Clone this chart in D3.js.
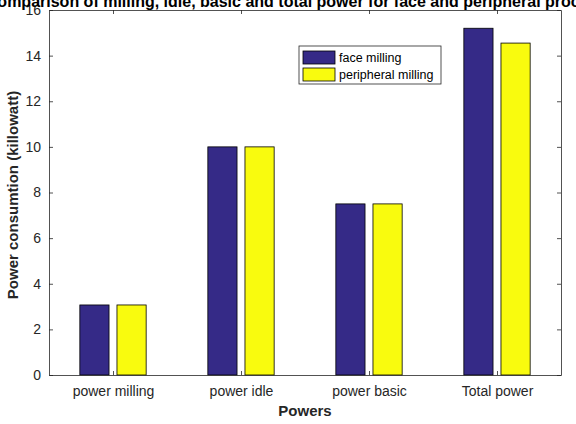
<!DOCTYPE html>
<html>
<head>
<meta charset="utf-8">
<script src="https://cdn.jsdelivr.net/npm/d3@7"></script>
<style>
  body { margin: 0; background: #fff; }
  svg { display: block; font-family: "Liberation Sans", Arial, sans-serif; }
</style>
</head>
<body>
<div id="chart"></div>
<script>
// chart data
var categories = ["power milling", "power idle", "power basic", "Total power"];
var faceMilling = [3.07, 10, 7.5, 15.2];
var peripheralMilling = [3.07, 10, 7.5, 14.55];
var seriesNames = ["face milling", "peripheral milling"];
var yTicks = [0, 2, 4, 6, 8, 10, 12, 14, 16];

var width = 576, height = 424;
var margin = { top: 10, right: 15, bottom: 49, left: 49 };

var svg = d3.select("#chart").append("svg")
    .attr("width", width)
    .attr("height", height);

var x = d3.scaleLinear()
    .domain([0.5, categories.length + 0.5])
    .range([margin.left, width - margin.right]);

var y = d3.scaleLinear()
    .domain([0, 16])
    .range([height - margin.bottom, margin.top]);

var colors = ["#352A87", "#F9FB0E"];
var series = [faceMilling, peripheralMilling];
var offset = 0.145, barW = 0.228;
var axisCol = "#262626";

// bars
series.forEach(function(vals, s) {
    svg.append("g").selectAll("rect")
        .data(vals)
        .enter().append("rect")
        .attr("x", function(d, i) { return x(i + 1 + (s === 0 ? -offset : offset) - barW / 2); })
        .attr("width", x(barW) - x(0))
        .attr("y", function(d) { return y(d); })
        .attr("height", function(d) { return y(0) - y(d); })
        .attr("fill", colors[s])
        .attr("stroke", "#000")
        .attr("stroke-width", 0.8);
});

// axes
var xAxis = d3.axisBottom(x).tickValues([1, 2, 3, 4])
    .tickFormat(function(d) { return categories[d - 1]; })
    .tickSizeInner(-4).tickSizeOuter(0).tickPadding(11);
svg.append("g")
    .attr("transform", "translate(0," + y(0) + ")")
    .call(xAxis);

var yAxis = d3.axisLeft(y).tickValues(yTicks)
    .tickSizeInner(-4).tickSizeOuter(0).tickPadding(8);
svg.append("g")
    .attr("transform", "translate(" + margin.left + ",0)")
    .call(yAxis);

// mirrored ticks on top and right
svg.append("g")
    .attr("transform", "translate(0," + y(16) + ")")
    .call(d3.axisTop(x).tickValues([1, 2, 3, 4]).tickSizeInner(-4).tickSizeOuter(0).tickFormat(""));
svg.append("g")
    .attr("transform", "translate(" + x(4.5) + ",0)")
    .call(d3.axisRight(y).tickValues(yTicks).tickSizeInner(-4).tickSizeOuter(0).tickFormat(""));

svg.selectAll(".domain, .tick line").attr("stroke", axisCol).attr("stroke-width", 0.8);
svg.selectAll(".tick text")
    .attr("fill", axisCol)
    .style("font-size", "14px");

// axis titles
svg.append("text")
    .attr("x", (x(0.5) + x(4.5)) / 2)
    .attr("y", 416)
    .attr("text-anchor", "middle")
    .style("font-size", "15px")
    .style("font-weight", "bold")
    .attr("fill", axisCol)
    .text("Powers");

svg.append("text")
    .attr("transform", "translate(18,195) rotate(-90)")
    .attr("text-anchor", "middle")
    .style("font-size", "15px")
    .style("font-weight", "bold")
    .attr("fill", axisCol)
    .text("Power consumtion (killowatt)");

// title (clipped at top as in the source figure)
svg.append("text")
    .attr("x", (x(0.5) + x(4.5)) / 2)
    .attr("y", 7)
    .attr("text-anchor", "middle")
    .style("font-size", "16px")
    .style("font-weight", "bold")
    .attr("fill", "#000")
    .text("Comparison of milling, idle, basic and total power for face and peripheral processes");

// legend
var legend = svg.append("g").attr("transform", "translate(299,46)");
legend.append("rect")
    .attr("width", 142).attr("height", 38)
    .attr("fill", "#fff")
    .attr("stroke", axisCol).attr("stroke-width", 0.8);
seriesNames.forEach(function(name, i) {
    legend.append("rect")
        .attr("x", 4).attr("y", 5 + i * 17)
        .attr("width", 32).attr("height", 13)
        .attr("fill", colors[i])
        .attr("stroke", "#000").attr("stroke-width", 0.8);
    legend.append("text")
        .attr("x", 40).attr("y", 16 + i * 17)
        .style("font-size", "12.5px")
        .attr("fill", "#000")
        .text(name);
});
</script>
</body>
</html>
